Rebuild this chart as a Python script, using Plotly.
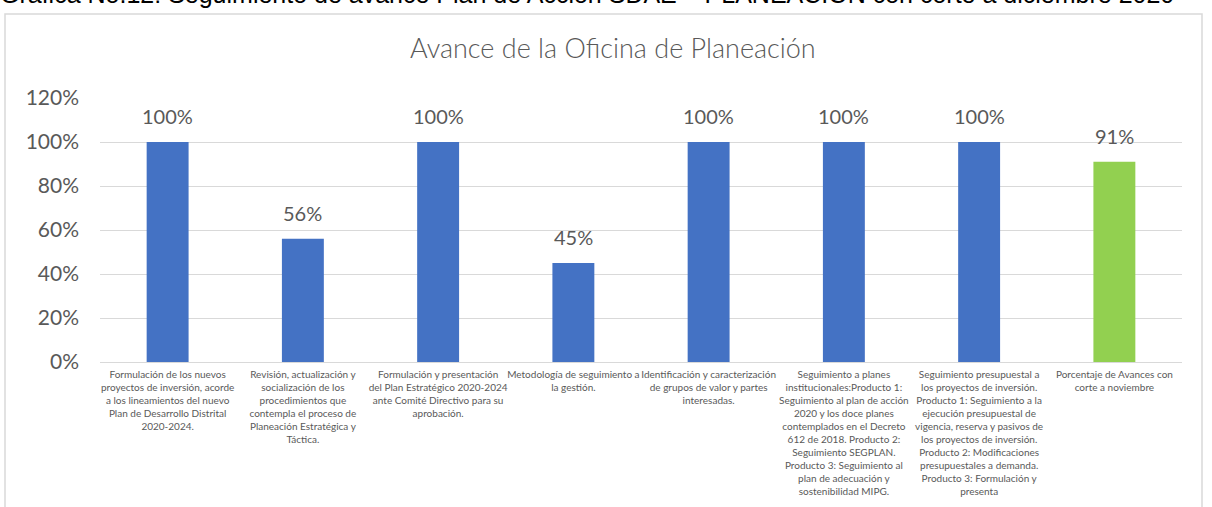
import plotly.graph_objects as go

categories = [
    "Formulación de los nuevos<br>proyectos de inversión, acorde<br>a los lineamientos del nuevo<br>Plan de Desarrollo Distrital<br>2020-2024.",
    "Revisión, actualización y<br>socialización de los<br>procedimientos que<br>contempla el proceso de<br>Planeación Estratégica y<br>Táctica.",
    "Formulación y presentación<br>del Plan Estratégico 2020-2024<br>ante Comité Directivo para su<br>aprobación.",
    "Metodología de seguimiento a<br>la gestión.",
    "Identificación y caracterización<br>de grupos de valor y partes<br>interesadas.",
    "Seguimiento a planes<br>institucionales:Producto 1:<br>Seguimiento al plan de acción<br>2020 y los doce planes<br>contemplados en el Decreto<br>612 de 2018. Producto 2:<br>Seguimiento SEGPLAN.<br>Producto 3: Seguimiento al<br>plan de adecuación y<br>sostenibilidad MIPG.",
    "Seguimiento presupuestal a<br>los proyectos de inversión.<br>Producto 1: Seguimiento a la<br>ejecución presupuestal de<br>vigencia, reserva y pasivos de<br>los proyectos de inversión.<br>Producto 2: Modificaciones<br>presupuestales a demanda.<br>Producto 3: Formulación y<br>presenta",
    "Porcentaje de Avances con<br>corte a noviembre",
]
values = [100, 56, 100, 45, 100, 100, 100, 91]
bar_colors = ["#4472C4"] * 7 + ["#92D050"]
y_ticks = [0, 20, 40, 60, 80, 100, 120]
y_tick_labels = ["0%", "20%", "40%", "60%", "80%", "100%", "120%"]

title_text = "Avance de la Oficina de Planeación"
caption_text = "Gráfica No.12: Seguimiento de avance Plan de Acción SDAE – PLANEACIÓN con corte a diciembre 2020"

W, H = 1212, 507
L, R, T, B = 100, 30, 98, 145
pw, ph = W - L - R, H - T - B

def px_x(p):
    return (p - L) / pw

def px_y(p):
    return (H - B - p) / ph

fig = go.Figure()
fig.add_trace(go.Bar(
    x=categories, y=values, marker_color=bar_colors, marker_line_width=0,
    width=0.31, showlegend=False, hoverinfo="skip",
))

for c, v in zip(categories, values):
    fig.add_annotation(x=c, y=v, text=f"{v}%", showarrow=False, yanchor="bottom",
                       yshift=12, font=dict(family="Lato", size=20, color="#595959"))

fig.add_annotation(xref="paper", yref="paper", x=px_x(613), y=px_y(48), text=title_text,
                   showarrow=False, xanchor="center", yanchor="middle",
                   font=dict(family="Lato", size=27, color="#595959", weight=300))
fig.add_annotation(xref="paper", yref="paper", x=px_x(-2), y=px_y(-6), text=caption_text,
                   showarrow=False, xanchor="left", yanchor="middle",
                   font=dict(family="Liberation Sans", size=25, color="#000000"))

fig.add_shape(type="rect", xref="paper", yref="paper",
              x0=px_x(5), x1=px_x(1202), y0=px_y(530), y1=px_y(14),
              line=dict(color="#D9D9D9", width=1.5), fillcolor="rgba(0,0,0,0)", layer="below")

fig.update_layout(
    width=W, height=H,
    margin=dict(l=L, r=R, t=T, b=B, pad=0),
    paper_bgcolor="white", plot_bgcolor="white",
    font=dict(family="Lato", color="#595959"),
    bargap=0.69,
)
fig.update_xaxes(showgrid=False, showline=True, linecolor="#D9D9D9", linewidth=1,
                 ticks="", tickangle=0, ticklabelstandoff=3,
                 tickfont=dict(family="Lato", size=10, color="#595959"),
                 automargin=False)
fig.update_yaxes(range=[0, 120], tickvals=y_ticks, ticktext=y_tick_labels,
                 showgrid=True, gridcolor="#D9D9D9", gridwidth=1, zeroline=False,
                 showline=False, ticks="", ticklabelstandoff=20,
                 tickfont=dict(family="Lato", size=21, color="#595959"),
                 automargin=False)

fig.write_html("out.html")
